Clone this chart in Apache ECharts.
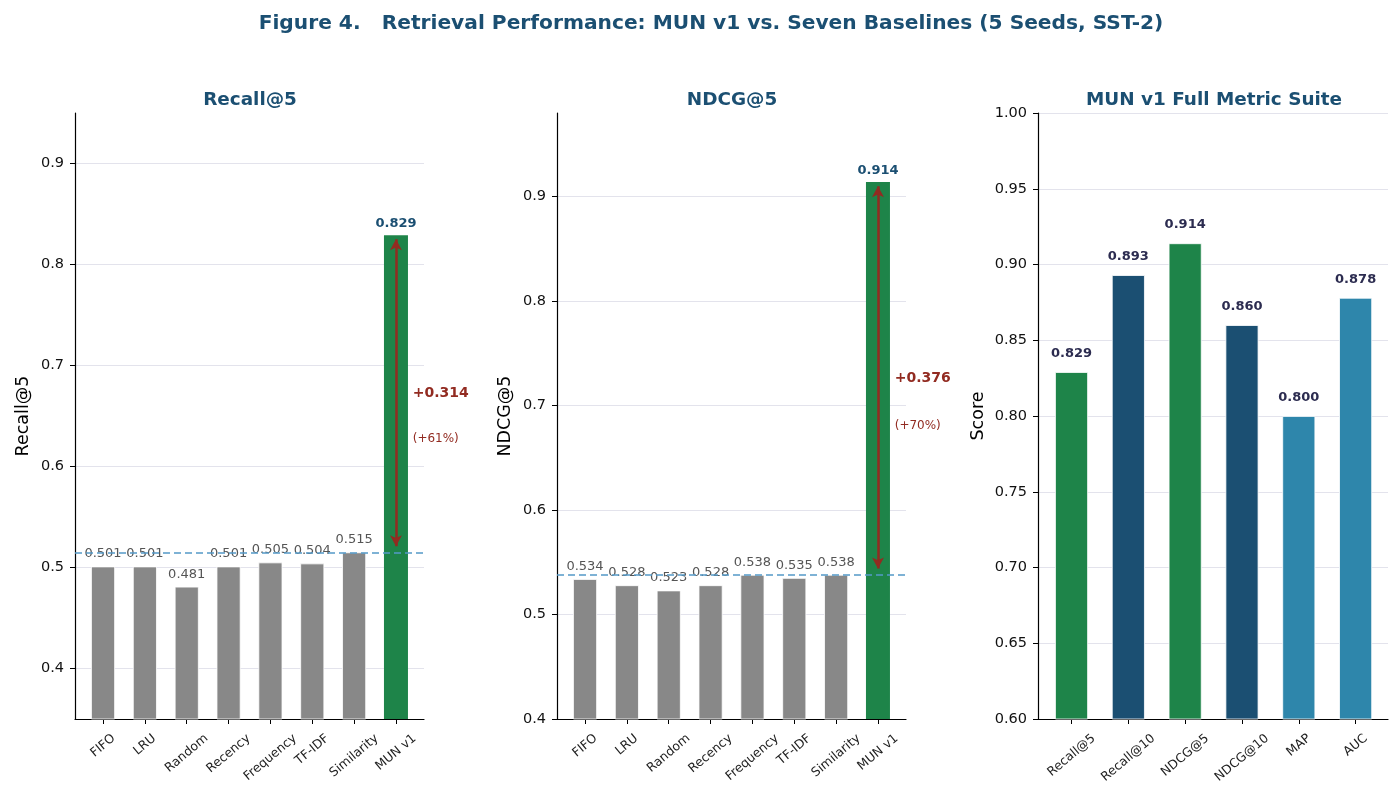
<!DOCTYPE html>
<html>
<head>
<meta charset="utf-8">
<script src="https://cdn.jsdelivr.net/npm/echarts@6/dist/echarts.min.js"></script>
<style>
  html, body { margin: 0; padding: 0; background: #fff; }
  #chart { width: 1400px; height: 799px; }
</style>
</head>
<body>
<div id="chart"></div>
<script>
    // data
    const methods = ['FIFO', 'LRU', 'Random', 'Recency', 'Frequency', 'TF-IDF', 'Similarity', 'MUN v1'];
    const recall5 = [0.501, 0.501, 0.481, 0.501, 0.505, 0.504, 0.515, 0.829];
    const ndcg5 = [0.534, 0.528, 0.523, 0.528, 0.538, 0.535, 0.538, 0.914];
    const metrics = ['Recall@5', 'Recall@10', 'NDCG@5', 'NDCG@10', 'MAP', 'AUC'];
    const metricValues = [0.829, 0.893, 0.914, 0.860, 0.800, 0.878];
    const metricColors = ['#1e8449', '#1b4f72', '#1e8449', '#1b4f72', '#2e86ab', '#2e86ab'];
    const recallTicks = [0.4, 0.5, 0.6, 0.7, 0.8, 0.9];
    const ndcgTicks = [0.4, 0.5, 0.6, 0.7, 0.8, 0.9];
    const scoreTicks = [0.60, 0.65, 0.70, 0.75, 0.80, 0.85, 0.90, 0.95, 1.00];

    const FONT = 'DejaVu Sans';
    const NAVY = '#1b4f72';
    const GREEN = '#1e8449';
    const RED = '#922b21';
    const GRAY = '#888888';
    const XFS = 12.5;   // x tick label size
    const ROT = 40;

    let myChart = echarts.init(document.getElementById('chart'));

    // measure label text so rotated labels can be centred under the tick
    let ctx = document.createElement('canvas').getContext('2d');
    ctx.font = XFS + 'px "' + FONT + '"';

    function idx(arr) {
        return arr.map((_, i) => i);
    }

    // rotated label centred on tick (like matplotlib ha='center'):
    // shift text centre straight down by D using asymmetric padding
    function centredRich(cats) {
        let rich = {};
        let a = ROT * Math.PI / 180;
        cats.forEach((c, i) => {
            let L = ctx.measureText(c).width;
            let D = (L * Math.sin(a) + XFS * Math.cos(a)) / 2;
            rich['t' + i] = {
                fontSize: XFS,
                fontFamily: FONT,
                color: '#222',
                padding: [2 * D * Math.cos(a), 2 * D * Math.sin(a), 0, 0]
            };
        });
        return rich;
    }

    function xAxisFor(gridIndex, cats, min, max) {
        return {
            type: 'value',
            gridIndex: gridIndex,
            min: min,
            max: max,
            axisLine: { show: true, onZero: false, lineStyle: { color: '#000', width: 1.2 } },
            axisTick: { show: true, length: 5, customValues: idx(cats), lineStyle: { color: '#000' } },
            axisLabel: {
                customValues: idx(cats),
                rotate: ROT,
                margin: 13,
                align: 'center',
                verticalAlign: 'middle',
                fontSize: XFS,
                color: '#222',
                fontFamily: FONT,
                formatter: v => {
                    let i = Math.round(v);
                    return '{t' + i + '|' + cats[i] + '}';
                },
                rich: centredRich(cats)
            },
            splitLine: { show: false }
        };
    }

    function yAxisFor(gridIndex, ticks, min, max, name, nameGap, digits) {
        return {
            type: 'value',
            gridIndex: gridIndex,
            min: min,
            max: max,
            name: name,
            nameLocation: 'middle',
            nameGap: nameGap,
            nameTextStyle: { fontSize: 17.5, color: '#000', fontFamily: FONT },
            axisLine: { show: true, onZero: false, lineStyle: { color: '#000', width: 1.2 } },
            axisTick: { show: true, length: 5, customValues: ticks, lineStyle: { color: '#000' } },
            axisLabel: {
                customValues: ticks,
                fontSize: 14.5,
                color: '#111',
                fontFamily: FONT,
                margin: 11,
                formatter: v => v.toFixed(digits)
            },
            splitLine: { show: true, lineStyle: { color: '#e3e3ec', width: 1 } }
        };
    }

    // dashed best-baseline line, drawn under the bars
    function baselineSeries(i, values) {
        let base = Math.max(...values.slice(0, values.length - 1));
        return {
            type: 'line',
            xAxisIndex: i,
            yAxisIndex: i,
            z: 1,
            data: [],
            markLine: {
                silent: true,
                animation: false,
                precision: 4,
                symbol: 'none',
                label: { show: false },
                lineStyle: { color: '#5499c7', type: [7, 4], width: 1.5 },
                data: [{ yAxis: base }]
            }
        };
    }

    // baseline bars plus the MUN v1 bar, with gain arrow and notes
    function compareSeries(i, values) {
        let base = Math.max(...values.slice(0, values.length - 1));
        let top = values[values.length - 1];
        let gain = top - base;
        let mid = (top + base) / 2;
        let last = values.length - 1;
        return {
            type: 'bar',
            xAxisIndex: i,
            yAxisIndex: i,
            z: 2,
            barWidth: 24,
            data: values.map((v, k) => {
                let isMun = k === last;
                return {
                    value: [k, v],
                    itemStyle: { color: isMun ? GREEN : GRAY, borderColor: '#fff', borderWidth: isMun ? 0 : 0.8 },
                    label: isMun
                        ? { color: NAVY, fontWeight: 'bold', fontSize: 13, distance: 5 }
                        : { color: '#555', fontSize: 13, distance: 6 }
                };
            }),
            label: {
                show: true,
                position: 'top',
                fontFamily: FONT,
                formatter: p => p.value[1].toFixed(3)
            },
            markLine: {
                silent: true,
                animation: false,
                precision: 4,
                label: { show: false },
                symbol: ['arrow', 'arrow'],
                symbolSize: [9, 11],
                lineStyle: { color: RED, type: 'solid', width: 2.5 },
                data: [
                    [{ coord: [last, base + 0.006] }, { coord: [last, top - 0.004] }]
                ]
            },
            markPoint: {
                silent: true,
                animation: false,
                symbol: 'circle',
                symbolSize: 0,
                data: [{
                    coord: [last + 0.4, mid],
                    label: {
                        show: true, position: [0, 0], align: 'left', verticalAlign: 'middle',
                        formatter: '+' + gain.toFixed(3),
                        color: RED, fontWeight: 'bold', fontSize: 14, fontFamily: FONT
                    }
                }, {
                    coord: [last + 0.4, mid - 0.045],
                    label: {
                        show: true, position: [0, 0], align: 'left', verticalAlign: 'middle',
                        formatter: '(+' + Math.round(gain / base * 100) + '%)',
                        color: RED, fontSize: 12, fontFamily: FONT
                    }
                }]
            }
        };
    }

    let subTitle = { fontSize: 18.4, fontWeight: 'bold', color: NAVY, fontFamily: FONT };

    let option = {
        backgroundColor: '#fff',
        animation: false,
        title: [
            {
                text: 'Figure 4.   Retrieval Performance: MUN v1 vs. Seven Baselines (5 Seeds, SST-2)',
                left: 706, top: 9, textAlign: 'center',
                textStyle: { fontSize: 20.2, fontWeight: 'bold', color: NAVY, fontFamily: FONT }
            },
            { text: 'Recall@5', left: 245, top: 86, textAlign: 'center', textStyle: subTitle },
            { text: 'NDCG@5', left: 727, top: 86, textAlign: 'center', textStyle: subTitle },
            { text: 'MUN v1 Full Metric Suite', left: 1209, top: 86, textAlign: 'center', textStyle: subTitle }
        ],
        grid: [
            { left: 75, top: 113, width: 349, height: 606 },
            { left: 557, top: 113, width: 349, height: 606 },
            { left: 1038, top: 113, width: 350, height: 606 }
        ],
        xAxis: [
            xAxisFor(0, methods, -0.67, 7.67),
            xAxisFor(1, methods, -0.67, 7.67),
            xAxisFor(2, metrics, -0.59, 5.57)
        ],
        yAxis: [
            yAxisFor(0, recallTicks, 0.35, 0.95, 'Recall@5', 43, 1),
            yAxisFor(1, ndcgTicks, 0.4, 0.98, 'NDCG@5', 43, 1),
            yAxisFor(2, scoreTicks, 0.6, 1.0, 'Score', 51, 2)
        ],
        series: [
            baselineSeries(0, recall5),
            baselineSeries(1, ndcg5),
            compareSeries(0, recall5),
            compareSeries(1, ndcg5),
            {
                type: 'bar',
                xAxisIndex: 2,
                yAxisIndex: 2,
                barWidth: 33,
                data: metricValues.map((v, k) => ({
                    value: [k, v],
                    itemStyle: { color: metricColors[k], borderColor: '#fff', borderWidth: 0.8 }
                })),
                label: {
                    show: true,
                    position: 'top',
                    distance: 12,
                    color: '#2c2c50',
                    fontWeight: 'bold',
                    fontSize: 13,
                    fontFamily: FONT,
                    formatter: p => p.value[1].toFixed(3)
                }
            }
        ]
    };
    myChart.setOption(option, true);
</script>
</body>
</html>
